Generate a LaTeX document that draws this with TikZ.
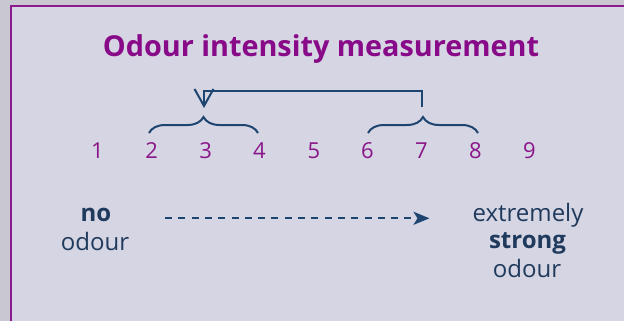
\documentclass[tikz,border=0pt]{standalone}
\usepackage{fontspec}
\setmainfont{Open Sans}
\usetikzlibrary{arrows.meta,decorations.pathreplacing}
\definecolor{outerbg}{HTML}{C9C8D2}
\definecolor{innerbg}{HTML}{D5D5E3}
\definecolor{framepurple}{HTML}{8E1A90}
\definecolor{titlepurple}{HTML}{880A88}
\definecolor{digitpurple}{HTML}{8A1589}
\definecolor{navy}{HTML}{1F3A5C}
\definecolor{linenavy}{HTML}{1E4470}
\tikzset{
  digit/.style={anchor=base, text=digitpurple, inner sep=0pt, font=\fontsize{22}{22}\selectfont},
  label/.style={anchor=base, text=navy, inner sep=0pt, font=\fontsize{24}{24}\selectfont},
  boldlabel/.style={label, font=\fontsize{24}{24}\selectfont\bfseries},
  bracepath/.style={draw=linenavy, line width=2pt, decorate, decoration={brace, amplitude=16pt, aspect=0.5}},
  conn/.style={draw=linenavy, line width=2pt},
}
\begin{document}
\begin{tikzpicture}[x=1pt, y=-1pt]
\useasboundingbox (0,0) rectangle (624,321);
\fill[outerbg] (0,0) rectangle (624,321);
\draw[fill=innerbg, draw=framepurple, line width=2pt] (11,6) rectangle (640,340);
\node[anchor=base, inner sep=0pt, text=titlepurple, font=\fontsize{28.8}{28.8}\selectfont\bfseries] (title) at (321,57) {Odour intensity measurement};
\foreach \i/\x in {1/97.5,2/151.7,3/205.7,4/259.5,5/314,6/367.5,7/421.5,8/475.5,9/529.5}{
  \node[digit] (d\i) at (\x,158.3) {\i};
}
\coordinate (bl1) at (149,133);
\coordinate (br1) at (258,133);
\coordinate (bl2) at (368,133);
\coordinate (br2) at (478,133);
\draw[bracepath] (bl1) -- (br1);
\draw[bracepath] (bl2) -- (br2);
\coordinate (t1) at (204,108);
\coordinate (t2) at (421.5,106.5);
\draw[conn, -{Straight Barb[length=17pt,width=19pt,line width=2pt]}] (t2) -- ++(0,-15.5) -| (t1);
\node[boldlabel] (no) at (96,221.7) {no};
\node[label] (odl) at (95,250.5) {odour};
\node[label] (ext) at (528,221.7) {extremely};
\node[boldlabel] (str) at (527.5,248.5) {strong};
\node[label] (odr) at (527,277) {odour};
\coordinate (as) at (165,218.3);
\coordinate (ae) at (429.5,218.3);
\draw[conn, dash pattern=on 7pt off 6.3pt, -{Stealth[length=16pt,width=13pt,inset=4pt]}] (as) -- (ae);
\end{tikzpicture}
\end{document}
